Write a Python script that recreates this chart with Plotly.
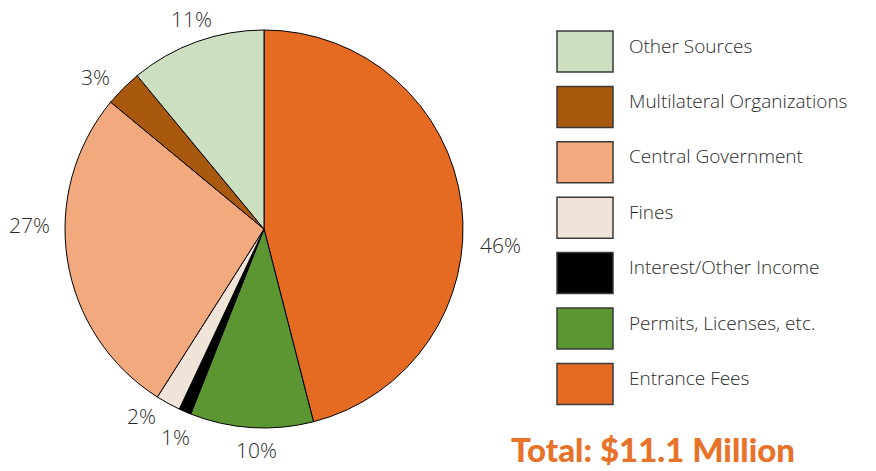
import math
import plotly.graph_objects as go

# data, clockwise from 12 o'clock
labels = ["Entrance Fees", "Permits, Licenses, etc.", "Interest/Other Income", "Fines",
          "Central Government", "Multilateral Organizations", "Other Sources"]
values = [46, 10, 1, 2, 27, 3, 11]
colors = ["#E66B22", "#5B9632", "#000000", "#F0E4D9", "#F2A97E", "#A8590E", "#CCDFC0"]
total_text = "Total: $11.1 Million"

W, H = 876, 471
CX, CY, R = 264, 229, 199  # pie centre / radius in pixels

# hand nudges for the % labels (pixels), same order as labels
label_nudge = [(13, 44), (7, -4), (1, 2), (-14, -10), (-12, -39), (-9, 7), (4, 2)]

FONT = "'Open Sans', Lato, sans-serif"

fig = go.Figure()

fig.add_trace(go.Pie(
    labels=labels, values=values, sort=False, direction="clockwise", rotation=0,
    marker=dict(colors=colors, line=dict(color="#000000", width=1)),
    textinfo="none", hoverinfo="label+percent", showlegend=False,
    domain=dict(x=[(CX - R) / W, (CX + R) / W], y=[1 - (CY + R) / H, 1 - (CY - R) / H]),
))

# invisible pixel axes for legend/labels
fig.update_xaxes(range=[0, W], visible=False, fixedrange=True)
fig.update_yaxes(range=[H, 0], visible=False, fixedrange=True)

# percentage labels around the pie
tot = sum(values)
cum = 0
for v, (dx, dy) in zip(values, label_nudge):
    mid = (cum + v / 2) / tot * 2 * math.pi
    cum += v
    x = CX + 225 * math.sin(mid) + dx
    y = CY - 225 * math.cos(mid) + dy
    fig.add_annotation(x=x, y=y, xref="x", yref="y", text=f"{round(v / tot * 100)}%",
                       showarrow=False,
                       font=dict(family=FONT, size=21, weight=300, color="#2a2a2a"))

# legend: top-to-bottom is reverse of slice order
BX0, BX1, BY0, BH, STEP = 557, 613, 31, 41, 55.4
for i, (lab, col) in enumerate(zip(labels[::-1], colors[::-1])):
    y0 = BY0 + i * STEP
    fig.add_shape(type="rect", x0=BX0, x1=BX1, y0=y0, y1=y0 + BH, xref="x", yref="y",
                  fillcolor=col, line=dict(color="#3a3a3a", width=1.5))
    fig.add_annotation(x=627, y=y0 + BH / 2 - 6, xref="x", yref="y", text=lab,
                       xanchor="left", showarrow=False,
                       font=dict(family=FONT, size=19, weight=300, color="#2a2a2a"))

fig.add_annotation(x=509, y=449, xref="x", yref="y", text=total_text,
                   xanchor="left", showarrow=False,
                   font=dict(family="Lato, sans-serif", size=33, weight=900, color="#E8722A"))

fig.update_layout(
    width=W, height=H,
    margin=dict(l=0, r=0, t=0, b=0),
    paper_bgcolor="white", plot_bgcolor="white",
    xaxis=dict(domain=[0, 1]), yaxis=dict(domain=[0, 1]),
)

fig.write_html("out.html", config={"displayModeBar": False},
               post_script="document.body.style.margin='0';")
